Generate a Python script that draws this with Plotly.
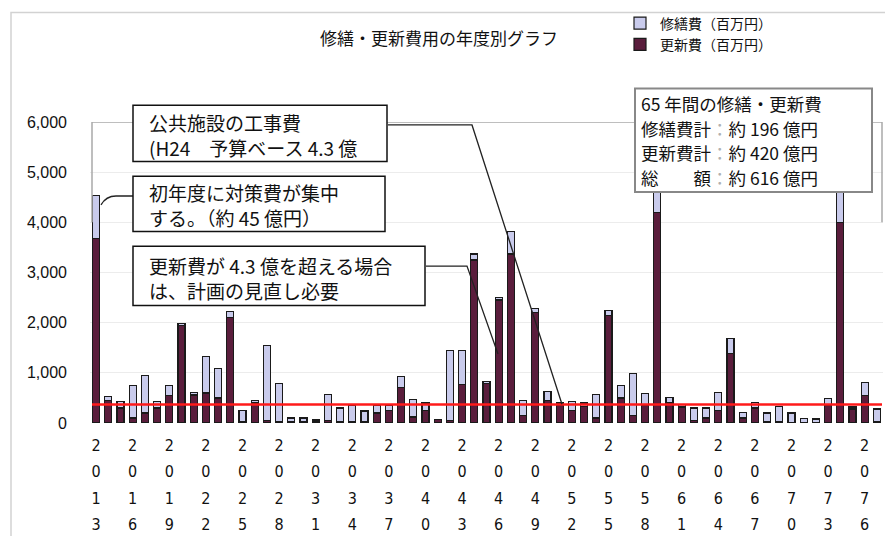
import plotly.graph_objects as go

# ---------------- data (百万円) ----------------
YEARS = list(range(2013, 2078))
RENEWAL = [3680, 450, 300, 100, 200, 300, 550, 1950, 560, 600, 500, 2100, 20,
           400, 50, 30, 20, 20, 20, 50, 20, 20, 20, 200, 250, 700, 120,
           250, 70, 50, 770, 3250, 780, 2450, 3370, 150, 2200, 450, 350,
           250, 330, 100, 2150, 500, 150, 350, 4200, 400, 320, 50, 100, 250, 1380,
           100, 300, 20, 30, 0, 0, 0, 350, 4000, 280, 550, 20]
REPAIR = [850, 80, 130, 650, 750, 130, 200, 40, 50, 720, 585, 120, 230,
          50, 1500, 760, 80, 80, 40, 520, 280, 330, 220, 150, 110, 225, 350,
          150, 0, 1390, 670, 120, 50, 50, 450, 300, 90, 180, 50,
          180, 70, 470, 100, 250, 835, 240, 500, 110, 50, 250, 200, 360, 310,
          110, 110, 180, 300, 200, 90, 80, 140, 700, 40, 260, 260]
TICK_YEARS = list(range(2013, 2078, 3))
Y_TICKS = [0, 1000, 2000, 3000, 4000, 5000, 6000]
BUDGET_LINE = 370

TITLE = "修繕・更新費用の年度別グラフ"
NAME_REPAIR = "修繕費（百万円）"
NAME_RENEWAL = "更新費（百万円）"
BOX1 = "公共施設の工事費<br>(H24　予算ベース 4.3 億"
BOX2 = "初年度に対策費が集中<br>する。（約 45 億円）"
BOX3 = "更新費が 4.3 億を超える場合<br>は、計画の見直し必要"
COLON = "<span style='color:#b0b0b0'>：</span>"
BOX4_LINES = ["65 年間の修繕・更新費",
              "修繕費計" + COLON + "約 196 億円",
              "更新費計" + COLON + "約 420 億円",
              "総　　額" + COLON + "約 616 億円"]

# ---------------- layout helpers (pixel -> paper) ----------------
W, H = 885, 536
L, R, T, B = 90, 883, 122, 427


def PX(px):
    return (px - L) / (R - L)


def PY(py):
    return (B - py) / (B - T)


CJK = "Noto Sans CJK JP"
DARK = "#5a1d3c"
LIGHT = "#c9cbec"
OUTLINE = "#1a1a1a"

fig = go.Figure()
fig.add_trace(go.Bar(x=YEARS, y=RENEWAL, name=NAME_RENEWAL, legendrank=2,
                     marker=dict(color=DARK, line=dict(color=OUTLINE, width=1.2))))
fig.add_trace(go.Bar(x=YEARS, y=REPAIR, name=NAME_REPAIR, legendrank=1,
                     marker=dict(color=LIGHT, line=dict(color=OUTLINE, width=1.2))))

ticktext = ["<br>".join("<span style='font-size:16px'>%s</span>" % d for d in str(y))
            for y in TICK_YEARS]

shapes = []
# outer chart frame
shapes.append(dict(type="rect", xref="paper", yref="paper", x0=PX(11), x1=PX(960),
                   y0=PY(620), y1=PY(11), line=dict(color="#d2d2d2", width=1.5),
                   fillcolor="rgba(0,0,0,0)", layer="below"))
# top border / bracket lines
shapes.append(dict(type="line", xref="paper", yref="y", x0=PX(92), x1=PX(882), y0=6000, y1=6000,
                   line=dict(color="#a8a8a8", width=1.5), layer="above"))
shapes.append(dict(type="line", xref="paper", yref="y", x0=PX(92), x1=PX(92), y0=4000, y1=6000,
                   line=dict(color="#a8a8a8", width=1.5), layer="above"))
shapes.append(dict(type="line", xref="paper", yref="y", x0=PX(882), x1=PX(882), y0=4000, y1=6000,
                   line=dict(color="#a8a8a8", width=1.5), layer="above"))
# budget line
shapes.append(dict(type="line", xref="paper", yref="y", x0=PX(92), x1=PX(882),
                   y0=BUDGET_LINE, y1=BUDGET_LINE, line=dict(color="#ff1a1a", width=2.5),
                   layer="above"))


def path(pts):
    return "M " + " L ".join("%f,%f" % (PX(a), PY(b)) for a, b in pts)


# callout lines
for pts in ([(388, 125), (472, 125), (562, 408)],
            [(426, 268), (467, 268), (498, 357)]):
    shapes.append(dict(type="path", xref="paper", yref="paper", path=path(pts),
                       line=dict(color="#222222", width=1.3), layer="above"))
shapes.append(dict(type="path", xref="paper", yref="paper",
                   path="M %f,%f L %f,%f Q %f,%f %f,%f" % (PX(133), PY(197), PX(116), PY(197),
                                                           PX(106), PY(197), PX(101), PY(206)),
                   line=dict(color="#222222", width=1.3), layer="above"))
# annotation boxes
for (x0, y0, x1, y1, col, w) in [(133, 105, 387, 162, "#111111", 1.5),
                                  (133, 177, 385, 233, "#111111", 1.5),
                                  (133, 248, 425, 308, "#111111", 1.5),
                                  (635, 88, 872, 193, "#888888", 2)]:
    shapes.append(dict(type="rect", xref="paper", yref="paper", x0=PX(x0), x1=PX(x1),
                       y0=PY(y1), y1=PY(y0), line=dict(color=col, width=w),
                       fillcolor="white", layer="above"))

BOX4 = "<br>".join("<span style='font-size:17.5px'>%s</span>" % s for s in BOX4_LINES)

annotations = []
for txt, x, yc, size in [(BOX1, 147, 135, 19), (BOX2, 147, 206, 19), (BOX3, 147, 280, 19),
                         (BOX4, 639, 141, 19)]:
    annotations.append(dict(text=txt, xref="paper", yref="paper", x=PX(x), y=PY(yc),
                            xanchor="left", yanchor="middle", align="left", showarrow=False,
                            font=dict(family=CJK, size=size, color="#111111")))

fig.update_layout(
    width=W, height=H,
    margin=dict(l=L, r=W - R, t=T, b=H - B, pad=0),
    paper_bgcolor="white", plot_bgcolor="white",
    font=dict(family=CJK, color="#111111"),
    barmode="stack", bargap=0.42,
    title=dict(text=TITLE, x=439 / W, xanchor="center", y=1 - 39 / H, yanchor="middle",
               xref="container", yref="container", font=dict(family=CJK, size=17, color="#111")),
    legend=dict(x=PX(620), y=PY(6), xanchor="left", yanchor="top", traceorder="normal",
                tracegroupgap=14, font=dict(family=CJK, size=14, color="#111"),
                bgcolor="rgba(0,0,0,0)"),
    xaxis=dict(range=[2012.5, 2077.5], tickvals=TICK_YEARS, ticktext=ticktext, showgrid=False,
               zeroline=False, showline=False, ticks="", ticklabelstandoff=6,
               tickfont=dict(family="Liberation Sans Narrow, DejaVu Sans Condensed", size=20.5,
                             color="#111")),
    yaxis=dict(range=[0, 6000], tickvals=Y_TICKS, tickformat=",", showgrid=True,
               gridcolor="#ececec", gridwidth=1, zeroline=False, showline=False, ticks="",
               ticklabelstandoff=22,
               tickfont=dict(family="Liberation Sans, Arial", size=16, color="#111")),
    shapes=shapes, annotations=annotations,
)

fig.write_html("out.html")
